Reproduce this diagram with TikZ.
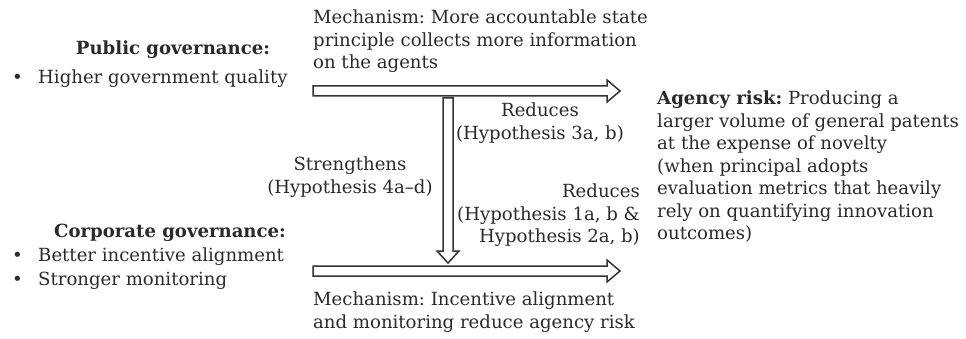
\documentclass[tikz,border=0pt]{standalone}
\usepackage{fontspec}
\setmainfont{DejaVu Serif}
\frenchspacing
\definecolor{ink}{HTML}{2A2A2A}
\definecolor{edge}{HTML}{333333}
\begin{document}
\begin{tikzpicture}[x=1pt,y=1pt,
  txt/.style={inner sep=0pt, text=ink, font=\fontsize{18.1}{22.5}\selectfont},
  bold/.style={txt, font=\bfseries\fontsize{18.1}{22.5}\selectfont},
  fat/.style={draw=edge, line width=1.5pt, fill=white, line join=miter}]
\useasboundingbox (0,0) rectangle (966,338);
% coordinates for arrows (y measured from top: 338-y)
\coordinate (ta0) at (313,{338-91});
\coordinate (ta1) at (620,{338-91});
\coordinate (ba0) at (313,{338-271});
\coordinate (ba1) at (620,{338-271});
\coordinate (va0) at (448,{338-98});
\coordinate (va1) at (448,{338-263});
% top horizontal arrow
\draw[fat] ([yshift=5pt]ta0) -- ([xshift=-13pt,yshift=5pt]ta1) -- ([xshift=-13pt,yshift=11pt]ta1) -- (ta1)
  -- ([xshift=-13pt,yshift=-11pt]ta1) -- ([xshift=-13pt,yshift=-5pt]ta1) -- ([yshift=-5pt]ta0) -- cycle;
% bottom horizontal arrow
\draw[fat] ([yshift=5pt]ba0) -- ([xshift=-13pt,yshift=5pt]ba1) -- ([xshift=-13pt,yshift=11pt]ba1) -- (ba1)
  -- ([xshift=-13pt,yshift=-11pt]ba1) -- ([xshift=-13pt,yshift=-5pt]ba1) -- ([yshift=-5pt]ba0) -- cycle;
% vertical arrow
\draw[fat] ([xshift=-5pt]va0) -- ([xshift=-5pt,yshift=12pt]va1) -- ([xshift=-11pt,yshift=12pt]va1) -- (va1)
  -- ([xshift=11pt,yshift=12pt]va1) -- ([xshift=5pt,yshift=12pt]va1) -- ([xshift=5pt]va0) -- cycle;
% texts
\node[txt, anchor=north west, align=left] (mtop) at (313,{338-10}) {Mechanism: More accountable state\\principle collects more information\\on the agents};
\node[bold] (pub) at (173,{338-50}) {Public governance:};
\node[txt, anchor=west] (b1) at (12,{338-79}) {•};
\node[txt, anchor=west] (pub1) at (38,{338-79}) {Higher government quality};
\node[txt, align=center, anchor=north] (red1) at (540,{338-103}) {Reduces\\(Hypothesis 3a, b)};
\node[txt, align=left, anchor=north west] (agency) at (657,{338-91}) {\textbf{Agency risk:} Producing a\\larger volume of general patents\\at the expense of novelty\\(when principal adopts\\evaluation metrics that heavily\\rely on quantifying innovation\\outcomes)};
\node[txt, align=center, anchor=north] (str) at (350,{338-157}) {Strengthens\\(Hypothesis 4a–d)};
\node[txt, align=right, anchor=north east] (red2) at (640,{338-184}) {Reduces\\(Hypothesis 1a, b \&\\Hypothesis 2a, b)};
\node[bold] (corp) at (170,{338-233}) {Corporate governance:};
\node[txt, anchor=west] (b2) at (12,{338-257}) {•};
\node[txt, anchor=west] (corp1) at (38,{338-257}) {Better incentive alignment};
\node[txt, anchor=west] (b3) at (12,{338-281}) {•};
\node[txt, anchor=west] (corp2) at (38,{338-281}) {Stronger monitoring};
\node[txt, align=left, anchor=north west] (mbot) at (313,{338-292}) {Mechanism: Incentive alignment\\and monitoring reduce agency risk};
\end{tikzpicture}
\end{document}
